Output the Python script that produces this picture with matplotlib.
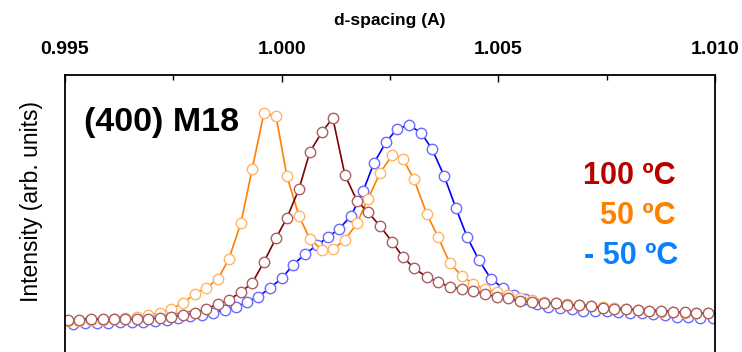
# (400) M18 peak vs temperature, d-spacing on top axis
import matplotlib
matplotlib.use('Agg')
import matplotlib.pyplot as plt
from matplotlib.ticker import MultipleLocator, FormatStrFormatter

plt.rcParams['font.family'] = ['Liberation Sans', 'DejaVu Sans']

#d-spacing of the points (A), 100 C and 50 C share the same grid
dGrid = [0.99507, 0.99532, 0.99560, 0.99588, 0.99613, 0.99638, 0.99666, 0.99692, 0.99719, 0.99745,
         0.99772, 0.99800, 0.99825, 0.99853, 0.99878, 0.99906, 0.99932, 0.99959, 0.99987, 1.00012,
         1.00040, 1.00065, 1.00093, 1.00118, 1.00146, 1.00174, 1.00199, 1.00227, 1.00255, 1.00280,
         1.00305, 1.00335, 1.00361, 1.00388, 1.00416, 1.00442, 1.00469, 1.00497, 1.00522, 1.00550,
         1.00578, 1.00605, 1.00633, 1.00658, 1.00686, 1.00714, 1.00742, 1.00767, 1.00795, 1.00822,
         1.00848, 1.00875, 1.00903, 1.00931, 1.00956, 1.00984]
dGridCold = [0.99518, 0.99546, 0.99574, 0.99599, 0.99627, 0.99655, 0.99680, 0.99708, 0.99735, 0.99761,
             0.99788, 0.99816, 0.99842, 0.99869, 0.99895, 0.99920, 0.99945, 0.99973, 1.00001, 1.00026,
             1.00054, 1.00082, 1.00107, 1.00132, 1.00160, 1.00188, 1.00213, 1.00241, 1.00266, 1.00294,
             1.00322, 1.00347, 1.00375, 1.00402, 1.00428, 1.00455, 1.00483, 1.00511, 1.00536, 1.00562,
             1.00589, 1.00615, 1.00642, 1.00670, 1.00695, 1.00723, 1.00751, 1.00776, 1.00804, 1.00832,
             1.00857, 1.00885, 1.00912, 1.00938, 1.00965, 1.00995]

#intensities (arb. units)
int100 = [320, 320, 330, 330, 330, 330, 330, 330, 340, 350,
          370, 390, 430, 480, 520, 600, 690, 900, 1140, 1340,
          1630, 2000, 2200, 2340, 1770, 1510, 1400, 1260, 1100, 950,
          840, 750, 700, 650, 630, 610, 580, 550, 540, 510,
          500, 490, 490, 470, 470, 460, 440, 430, 430, 420,
          410, 410, 400, 400, 390, 390]
int50 = [310, 310, 320, 320, 330, 340, 350, 370, 390, 430,
         490, 580, 640, 730, 930, 1290, 1830, 2390, 2360, 1760,
         1360, 1130, 1020, 1030, 1120, 1290, 1530, 1790, 1970, 1930,
         1730, 1380, 1150, 890, 760, 680, 630, 600, 570, 540,
         520, 500, 490, 480, 470, 460, 450, 440, 430, 420,
         410, 400, 400, 390, 390, 390]
intM50 = [280, 290, 290, 290, 300, 300, 300, 310, 320, 340,
          360, 370, 390, 420, 450, 500, 550, 640, 740, 870,
          980, 1070, 1150, 1230, 1360, 1610, 1890, 2100, 2230, 2270,
          2190, 2030, 1760, 1440, 1150, 920, 730, 640, 570, 530,
          480, 450, 440, 430, 410, 410, 410, 400, 390, 390,
          380, 370, 350, 350, 340, 340]

fig = plt.figure(figsize=(7.42, 3.52), dpi=100)
ax = fig.add_axes([65/742, 0.0, 650/742, 277/352])

#blue, orange, then dark red on top
ax.plot(dGridCold, intM50, '-o', color='#0000ff', lw=1.2, ms=7.5, mew=1.0,
        mfc='white', mec='#6a6aff')
ax.plot(dGrid, int50, '-o', color='#ff8000', lw=1.2, ms=7.5, mew=1.0,
        mfc='white', mec='#ffb466')
ax.plot(dGrid, int100, '-o', color='#800000', lw=1.2, ms=7.5, mew=1.0,
        mfc='white', mec='#a86060')

ax.set_xlim(0.995, 1.010)
ax.set_ylim(0, 2770)

#top axis only
ax.xaxis.tick_top()
ax.xaxis.set_label_position('top')
ax.xaxis.set_major_locator(MultipleLocator(0.005))
ax.xaxis.set_minor_locator(MultipleLocator(0.0025))
ax.xaxis.set_major_formatter(FormatStrFormatter('%.3f'))
ax.tick_params(axis='x', which='major', direction='in', length=5, width=1.0,
               labelsize=14, pad=12)
ax.tick_params(axis='x', which='minor', direction='in', length=3.5, width=1.0)
for lab in ax.get_xticklabels():
    lab.set_fontweight('bold')
ax.set_yticks([])
ax.spines['bottom'].set_visible(False)
for s in ['top', 'left', 'right']:
    ax.spines[s].set_linewidth(1.3)

ax.set_xlabel('d-spacing (A)', fontsize=12.5, fontweight='bold', labelpad=12)
fig.text(32/742, 1 - 202/352, 'Intensity (arb. units)', rotation=90,
         ha='center', va='center', fontsize=16.5)

fig.text(84/742, 1 - 122/352, '(400) M18', ha='left', va='center',
         fontsize=24.5, fontweight='bold')
fig.text(676/742, 1 - 176/352, '100 ºC', ha='right', va='center',
         fontsize=22, fontweight='bold', color='#b80000')
fig.text(676/742, 1 - 216/352, '50 ºC', ha='right', va='center',
         fontsize=22, fontweight='bold', color='#ff8000')
fig.text(678/742, 1 - 256/352, '- 50 ºC', ha='right', va='center',
         fontsize=22, fontweight='bold', color='#0a80ff')

plt.savefig('out.png', dpi=100)
